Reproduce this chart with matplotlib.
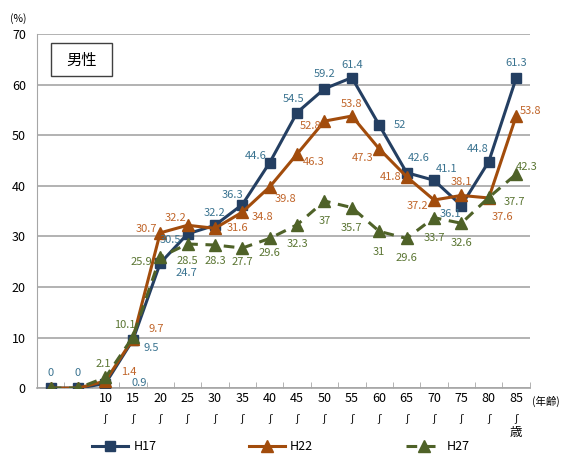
import matplotlib
matplotlib.use('Agg')
import matplotlib.pyplot as plt
from matplotlib.patches import Rectangle
from matplotlib.transforms import blended_transform_factory

plt.rcParams['font.family'] = ['Noto Sans CJK JP', 'DejaVu Sans']

# age groups (first two groups have no tick label)
ages = ['', '', '10', '15', '20', '25', '30', '35', '40', '45',
        '50', '55', '60', '65', '70', '75', '80', '85']
h17 = [0, 0, 0.9, 9.5, 24.7, 30.5, 32.2, 36.3, 44.6, 54.5, 59.2, 61.4, 52, 42.6, 41.1, 36.1, 44.8, 61.3]
h22 = [0, 0, 1.4, 9.7, 30.7, 32.2, 31.6, 34.8, 39.8, 46.3, 52.8, 53.8, 47.3, 41.8, 37.2, 38.1, 37.6, 53.8]
h27 = [0, 0, 2.1, 10.1, 25.9, 28.5, 28.3, 27.7, 29.6, 32.3, 37, 35.7, 31, 29.6, 33.7, 32.6, 37.7, 42.3]

# label offsets in pixels (None = no label)
off17 = [(0, 15), (0, 15), (34, 1), (18, -8), (26, -10), (-17, -6), (0, 12), (-10, 10), (-14, 7),
         (-4, 14), (0, 15), (0, 13), (21, 0), (12, 15), (13, 11), (-11, -8), (-11, 13), (0, 15)]
off22 = [None, None, (23, 9), (23, 10), (-14, 4), (-12, 7), (23, 0), (20, -5), (16, -12),
         (17, -8), (-14, -5), (0, 12), (-17, -9), (-16, 0), (-17, -6), (0, 13), (14, -19), (14, 5)]
off27 = [None, None, (-2, 13), (-8, 12), (-19, -5), (0, -17), (0, -16), (0, -14), (0, -15),
         (0, -19), (0, -20), (0, -20), (0, -21), (0, -20), (0, -20), (0, -20), (26, -5), (11, 7)]

c17, c22, c27 = '#243F62', '#A24C0C', '#4F6228'
t17, t22, t27 = '#3A7390', '#C0652A', '#5A7532'

fig = plt.figure(figsize=(5.62, 4.55), dpi=100)
ax = fig.add_axes([0.0658, 0.147, 0.877, 0.778])

x = list(range(len(ages)))
ax.plot(x, h17, color=c17, lw=2.2, marker='s', ms=7, label='H17', zorder=3)
ax.plot(x, h22, color=c22, lw=2.2, marker='^', ms=8, label='H22', zorder=4)
ax.plot(x, h27, color=c27, lw=2.2, marker='^', ms=8, ls=(0, (3.5, 2.5)), label='H27', zorder=5)

for vals, offs, col in [(h17, off17, t17), (h22, off22, t22), (h27, off27, t27)]:
    for i, (v, o) in enumerate(zip(vals, offs)):
        if o is None:
            continue
        ax.annotate(f'{v:g}', (i, v), xytext=o, textcoords='offset pixels',
                    ha='center', va='center', fontsize=8, color=col, zorder=6)

ax.set_xlim(-0.5, len(ages) - 0.5)
ax.set_ylim(0, 70)
ax.set_yticks(range(0, 71, 10))
ax.yaxis.grid(True, color='#A6A6A6', lw=1.2)
ax.set_axisbelow(True)

ax.set_xticks(x)
ax.set_xticklabels(ages, fontsize=9)
ax.tick_params(axis='x', length=0, pad=3)
ax.set_xticks([i + 0.5 for i in range(-1, len(ages))], minor=True)
ax.tick_params(axis='x', which='minor', length=4, direction='in', color='#A6A6A6')
ax.tick_params(axis='y', length=0, labelsize=9, pad=8)

# wave marks ("～" in vertical writing) under the age labels
trans = blended_transform_factory(ax.transData, ax.transAxes)
for i, a in enumerate(ages):
    if a:
        ax.text(i, -0.086, 'ʃ', transform=trans, ha='center', va='center',
                fontsize=8, family='DejaVu Sans', color='#222222')
ax.text(len(ages) - 1, -0.125, '歳', transform=trans, ha='center', va='center', fontsize=9)

for s in ['top', 'right']:
    ax.spines[s].set_visible(False)
ax.spines['left'].set_color('#A6A6A6')
ax.spines['bottom'].set_color('#A6A6A6')
ax.spines['bottom'].set_linewidth(1.2)

ax.text(-0.0385, 1.045, '(%)', transform=ax.transAxes, ha='center', va='center', fontsize=7.5)
ax.text(1.005, -0.037, '(年齢)', transform=ax.transAxes, ha='left', va='center', fontsize=7.5)

ax.add_patch(Rectangle((0.0284, 0.881), 0.1237, 0.0932, transform=ax.transAxes,
                       fill=False, edgecolor='#404040', lw=1, clip_on=False))
ax.text(0.0903, 0.927, '男性', transform=ax.transAxes, ha='center', va='center', fontsize=11)

fig.legend(loc='center', bbox_to_anchor=(0.5, 0.0176), ncol=3, frameon=False,
           fontsize=9, handlelength=2.9, columnspacing=7.4, handletextpad=0.4)

fig.savefig('out.png', dpi=100)
